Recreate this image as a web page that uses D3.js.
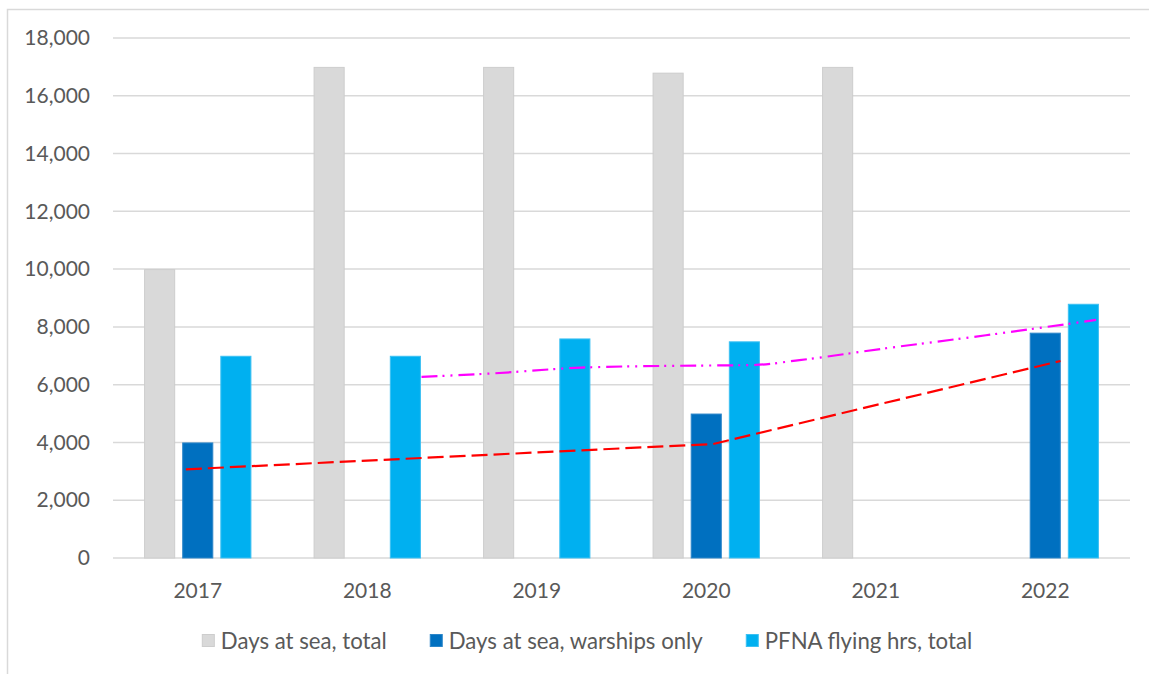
<!DOCTYPE html>
<html>
<head>
<meta charset="utf-8">
<script src="https://cdn.jsdelivr.net/npm/d3@7"></script>
<style>
  html, body { margin: 0; padding: 0; background: #fff; }
  svg { display: block; font-family: Lato, "Open Sans", sans-serif; }
</style>
</head>
<body>
<svg id="chart" width="1149" height="674"></svg>
<script>
// Categories and series
const years = ["2017", "2018", "2019", "2020", "2021", "2022"];
const seriesNames = ["Days at sea, total", "Days at sea, warships only", "PFNA flying hrs, total"];
const daysAtSeaTotal = [10000, 17000, 17000, 16800, 17000, null];
const daysAtSeaWarships = [4000, null, null, 5000, null, 7800];
const pfnaFlyingHrs = [7000, 7000, 7600, 7500, null, 8800];
const seriesColors = ["#D9D9D9", "#0070C0", "#00B0F0"];
const seriesStrokes = ["#CDCDCD", "#2C86C9", "#3CC0F2"];
const yTicks = [0, 2000, 4000, 6000, 8000, 10000, 12000, 14000, 16000, 18000];

// Trend lines, x given as position along the year axis
const trendWarshipsYear = [2016.93, 2020.04, 2022.09];
const trendWarshipsValue = [3070, 3946, 6820];
const trendFlyingYear = [2018.32, 2018.74, 2019.26, 2019.77, 2020.28, 2020.55, 2021.06, 2021.65, 2022.30];
const trendFlyingValue = [6270, 6390, 6590, 6650, 6680, 6850, 7260, 7710, 8240];

const svg = d3.select("#chart");
const W = 1149, H = 674;
const plot = { left: 113, right: 1130, top: 38, bottom: 558 };
const textColor = "#595959";

// Chart area frame
svg.append("rect")
  .attr("x", 7.5).attr("y", 9.5)
  .attr("width", W + 20).attr("height", H + 20)
  .attr("fill", "#fff").attr("stroke", "#D9D9D9").attr("stroke-width", 1.5);

const x = d3.scaleBand().domain(years).range([plot.left, plot.right]).paddingInner(0).paddingOuter(0);
const y = d3.scaleLinear().domain([0, 18000]).range([plot.bottom, plot.top]);

// Bars inside each category: gap width ~200%, overlap ~ -23%
const gapWidth = 2.0, overlap = -0.226;
const barW = x.bandwidth() / (3 + 2 * (-overlap) + gapWidth);
const barStep = barW * (1 - overlap);

// Gridlines
svg.append("g").selectAll("line").data(yTicks).join("line")
  .attr("x1", plot.left).attr("x2", plot.right)
  .attr("y1", d => y(d)).attr("y2", d => y(d))
  .attr("stroke", "#D9D9D9").attr("stroke-width", 1.5);

// Y axis labels
const yAxis = d3.axisLeft(y).tickValues(yTicks).tickFormat(d3.format(",")).tickSize(0).tickPadding(0);
const yg = svg.append("g").attr("transform", `translate(${plot.left - 23},0)`).call(yAxis);
yg.select(".domain").remove();
yg.selectAll("text").attr("fill", textColor).attr("font-size", 21).attr("font-family", "Lato, sans-serif");

// X axis labels
const xAxis = d3.axisBottom(x).tickSize(0).tickPadding(0);
const xg = svg.append("g").attr("transform", `translate(0,${plot.bottom + 25})`).call(xAxis);
xg.select(".domain").remove();
xg.selectAll("text").attr("fill", textColor).attr("font-size", 21).attr("font-family", "Lato, sans-serif");

// Bars (outline drawn inside the bar width)
const allSeries = [daysAtSeaTotal, daysAtSeaWarships, pfnaFlyingHrs];
allSeries.forEach((vals, si) => {
  const data = years.map((yr, i) => ({ yr, v: vals[i] })).filter(d => d.v != null);
  svg.append("g").selectAll("rect").data(data).join("rect")
    .attr("x", d => x(d.yr) + x.bandwidth() / 2 + (si - 1) * barStep - barW / 2 + 0.5)
    .attr("width", barW - 1)
    .attr("y", d => y(d.v) + 0.5)
    .attr("height", d => y(0) - y(d.v) - 0.5)
    .attr("fill", seriesColors[si])
    .attr("stroke", seriesStrokes[si]).attr("stroke-width", 1);
});

// Trend lines on a continuous year scale aligned with the category centres
const xYear = d3.scaleLinear().domain([2017, 2022])
  .range([x("2017") + x.bandwidth() / 2, x("2022") + x.bandwidth() / 2]);

const redLine = d3.line().x(d => xYear(d[0])).y(d => y(d[1]));
svg.append("path")
  .datum(d3.zip(trendWarshipsYear, trendWarshipsValue))
  .attr("d", redLine)
  .attr("fill", "none").attr("stroke", "#FF0000").attr("stroke-width", 2.2)
  .attr("stroke-dasharray", "16,6");

const pinkLine = d3.line().curve(d3.curveMonotoneX).x(d => xYear(d[0])).y(d => y(d[1]));
svg.append("path")
  .datum(d3.zip(trendFlyingYear, trendFlyingValue))
  .attr("d", pinkLine)
  .attr("fill", "none").attr("stroke", "#FF00FF").attr("stroke-width", 2.2)
  .attr("stroke-dasharray", "16,5,2,6,2,6");

// Legend, centred in the chart area
const legend = svg.append("g");
const items = legend.selectAll("g").data(seriesNames).join("g");
items.append("rect")
  .attr("x", 0.5).attr("width", 12).attr("height", 12).attr("y", -6.5)
  .attr("fill", (d, i) => seriesColors[i])
  .attr("stroke", (d, i) => seriesStrokes[i]).attr("stroke-width", 1);
items.append("text")
  .attr("x", 19).attr("dy", "0.35em")
  .attr("fill", textColor).attr("font-size", 22.2).attr("font-family", "Lato, sans-serif")
  .text(d => d);
const widths = [];
items.each(function () {
  widths.push(19 + this.querySelector("text").getComputedTextLength());
});
const legendGap = 43;
const totalW = d3.sum(widths) + legendGap * (widths.length - 1);
const legendCenter = 587;
let lx = legendCenter - totalW / 2;
items.attr("transform", (d, i) => {
  const t = `translate(${lx},641)`;
  lx += widths[i] + legendGap;
  return t;
});
</script>
</body>
</html>
